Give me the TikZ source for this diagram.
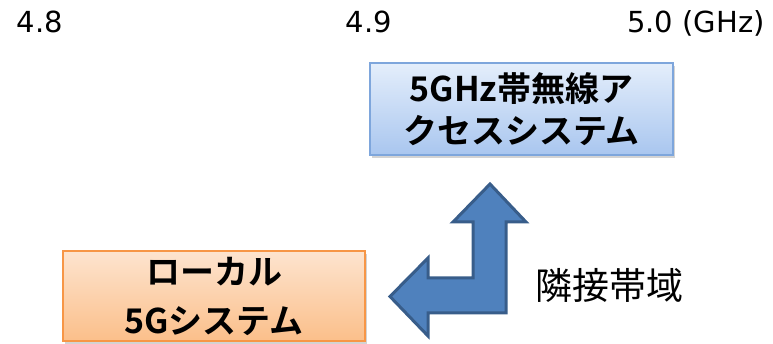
\documentclass[tikz,border=0pt]{standalone}
\usepackage{fontspec}
\setmainfont{Noto Sans CJK JP}[BoldFont={Noto Sans CJK JP Bold}]
\newfontfamily\labelfont{DejaVu Sans}
\usetikzlibrary{shadows}
\definecolor{bluetop}{HTML}{E4EEFB}
\definecolor{bluebot}{HTML}{A9C6EF}
\definecolor{blueline}{HTML}{7EA6DC}
\definecolor{orgtop}{HTML}{FDE4CF}
\definecolor{orgbot}{HTML}{FBBF8A}
\definecolor{orgline}{HTML}{F79646}
\definecolor{arrfill}{HTML}{4F81BD}
\definecolor{arrline}{HTML}{385D8A}
\tikzset{
  freqlabel/.style={inner sep=0pt, anchor=base, font=\labelfont\fontsize{29}{32}\selectfont},
  sysbox/.style={draw, line width=1.5pt, inner sep=0pt, align=center,
    font=\bfseries,
    drop shadow={opacity=0.35, shadow xshift=2pt, shadow yshift=-3pt}},
}
\begin{document}
\begin{tikzpicture}[x=1pt,y=-1pt]
\useasboundingbox (0,0) rectangle (773,344);
\node[freqlabel] (f48) at (40,33) {4.8};
\node[freqlabel] (f49) at (369,33) {4.9};
\node[freqlabel] (f50) at (696,33) {5.0 (GHz)};
\node[sysbox, draw=blueline, top color=bluetop, bottom color=bluebot,
  minimum width=303pt, minimum height=92pt,
  font=\bfseries\fontsize{34}{42}\selectfont] (wlan) at (521.5,109)
  {5GHz帯無線ア\\クセスシステム};
\node[sysbox, draw=orgline, top color=orgtop, bottom color=orgbot,
  minimum width=302pt, minimum height=90pt,
  font=\bfseries\fontsize{34}{49}\selectfont] (local) at (214,296)
  {ローカル\\5Gシステム};
\draw[fill=arrfill, draw=arrline, line width=3pt, line join=miter]
  (490,184) -- (526,222) -- (506,222) -- (506,313) -- (428,313)
  -- (428,336) -- (390,296.5) -- (428,258) -- (428,278) -- (473,278)
  -- (473,222) -- (453,222) -- cycle;
\node[inner sep=0pt, font=\fontsize{37}{40}\selectfont] (adj) at (609,285) {隣接帯域};
\end{tikzpicture}
\end{document}
